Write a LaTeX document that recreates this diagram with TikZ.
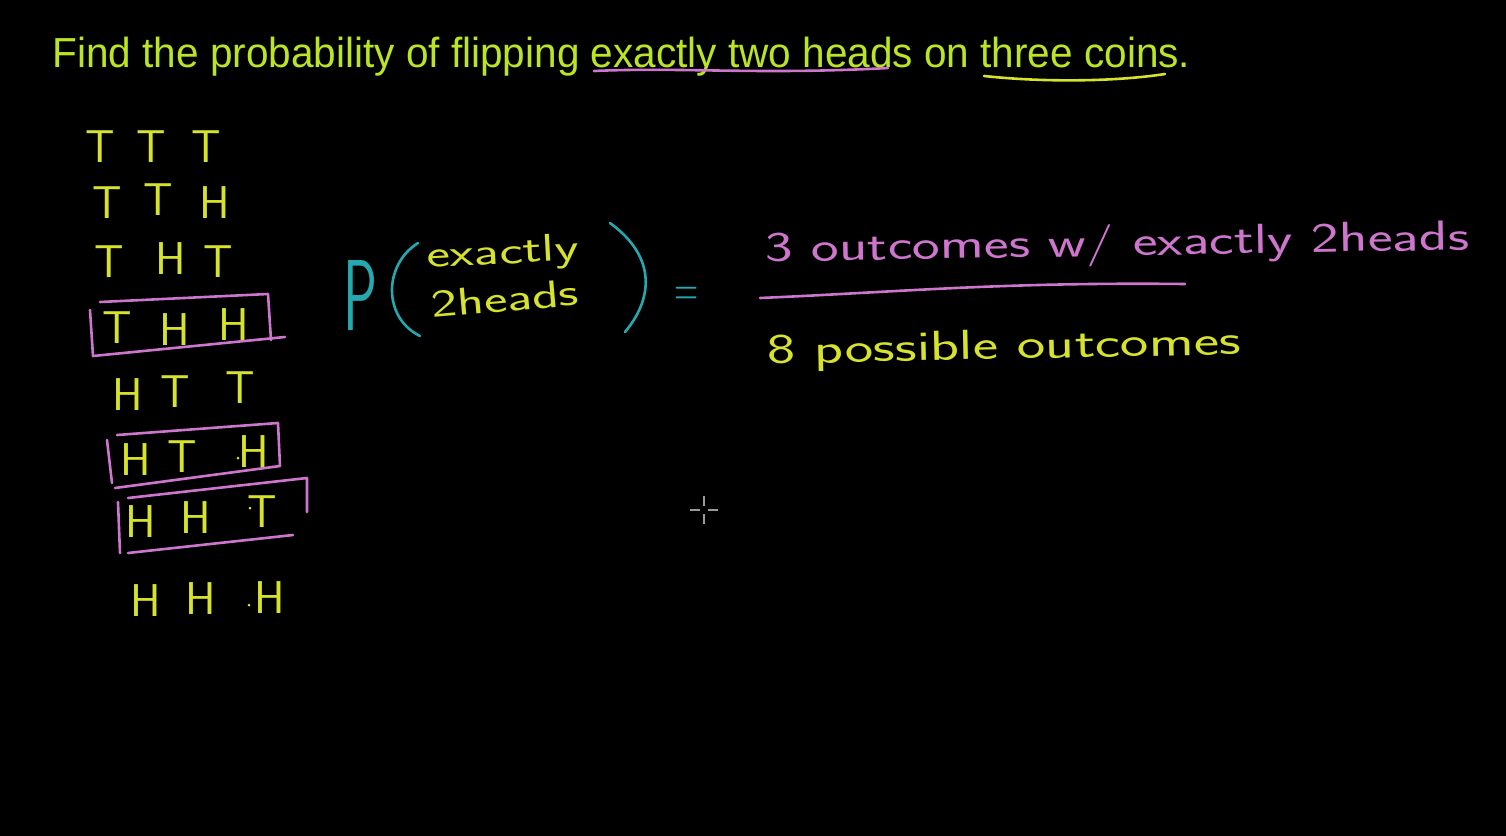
\documentclass[tikz,border=0pt]{standalone}
\usepackage{fontspec}
\usepackage{graphicx}
\newfontfamily\titlefont{Liberation Sans}
\definecolor{ttl}{RGB}{186,228,36}
\definecolor{hy}{RGB}{214,226,44}
\definecolor{pk}{RGB}{206,118,206}
\definecolor{tl}{RGB}{38,168,176}
\newcommand{\hw}[2]{\resizebox{#1}{\height}{#2}}
\tikzset{
  hand/.style={text=hy, font=\sffamily\fontsize{23}{23}\selectfont, inner sep=0pt},
  pkhand/.style={text=pk, font=\sffamily\fontsize{21}{21}\selectfont, inner sep=0pt},
  yhand/.style={text=hy, font=\sffamily\fontsize{21}{21}\selectfont, inner sep=0pt},
  tlhand/.style={text=tl, font=\sffamily\fontsize{30}{30}\selectfont, inner sep=0pt},
  box/.style={draw=pk, line width=1.3pt, line cap=round, line join=round},
  ink/.style={line width=1.3pt, line cap=round},
}
\begin{document}
\begin{tikzpicture}[x=0.5pt,y=-0.5pt]
\fill[black] (0,0) rectangle (1506,836);
\useasboundingbox (0,0) rectangle (1506,836);
% title
\node[anchor=base west, inner sep=0pt, text=ttl, font=\titlefont\fontsize{21}{21}\selectfont] (title) at (52,67)
  {\hw{569pt}{Find the probability of flipping exactly two heads on three coins.}};
\draw[ink, draw=pk] (594,71) .. controls (680,67) and (760,75) .. (888,68);
\draw[ink, draw=hy] (984,76) .. controls (1050,83) and (1120,81) .. (1165,74);
% outcomes list
\node[hand] (r1a) at (100,147) {T};
\node[hand] (r1b) at (151,147) {T};
\node[hand] (r1c) at (206,147) {T};
\node[hand] (r2a) at (107,203) {T};
\node[hand] (r2b) at (158,200) {T};
\node[hand] (r2c) at (215,203) {H};
\node[hand] (r3a) at (109,262) {T};
\node[hand] (r3b) at (171,259) {H};
\node[hand] (r3c) at (218,262) {T};
\node[hand] (r4a) at (117,328) {T};
\node[hand] (r4b) at (175,330) {H};
\node[hand] (r4c) at (234,325) {H};
\node[hand] (r5a) at (128,395) {H};
\node[hand] (r5b) at (175,392) {T};
\node[hand] (r5c) at (240,388) {T};
\node[hand] (r6a) at (136,460) {H};
\node[hand] (r6b) at (182,457) {T};
\node[hand] (r6c) at (254,452) {H};
\node[hand] (r7a) at (141,522) {H};
\node[hand] (r7b) at (196,518) {H};
\node[hand] (r7c) at (262,512) {T};
\node[hand] (r8a) at (146,601) {H};
\node[hand] (r8b) at (201,599) {H};
\node[hand] (r8c) at (270,598) {H};
\fill[hy] (249,605) circle (1.5);
\fill[hy] (238,458) circle (1.5);
\fill[hy] (250,508) circle (1.5);
% boxes
\draw[box] (100,302) -- (268,294) -- (271,340);
\draw[box] (90,310) -- (93,356) -- (285,337);
\draw[box] (117,435) -- (278,423) -- (280,466) -- (115,488);
\draw[box] (107,440) -- (112,483);
\draw[box] (128,498) -- (307,478) -- (307,512);
\draw[box] (118,502) -- (120,553);
\draw[box] (128,553) -- (293,535);
% P( ... ) =
\node[anchor=north west, inner sep=0pt, text=tl, font=\sffamily\fontsize{40}{40}\selectfont] (P) at (343,260) {\resizebox{17pt}{35pt}{P}};
\draw[ink, draw=tl] (418,243) .. controls (383,265) and (383,318) .. (420,336);
\draw[ink, draw=tl] (610,223) .. controls (658,258) and (652,300) .. (625,332);
\node[yhand, anchor=base west, rotate=3] (ex) at (427,268) {\resizebox{76pt}{0.92\height}{exactly}};
\node[yhand, anchor=base west, rotate=5] (zh) at (432,318) {\resizebox{74pt}{0.92\height}{2heads}};
\node[tlhand, anchor=center] (eq) at (687,297) {\scalebox{0.55}[0.9]{=}};
% fraction
\node[pkhand, anchor=base west, rotate=1] (num) at (765,262) {\hw{352pt}{3 outcomes w/ exactly 2heads}};
\draw[ink, draw=pk] (760,298) .. controls (900,292) and (1000,282) .. (1185,284);
\node[yhand, anchor=base west, rotate=1.2] (den) at (767,364) {\hw{237pt}{8 possible outcomes}};
% cursor
\draw[gray!80, line width=0.6pt] (690,510) -- (700,510) (708,510) -- (718,510) (704,496) -- (704,506) (704,514) -- (704,524);
\end{tikzpicture}
\end{document}
